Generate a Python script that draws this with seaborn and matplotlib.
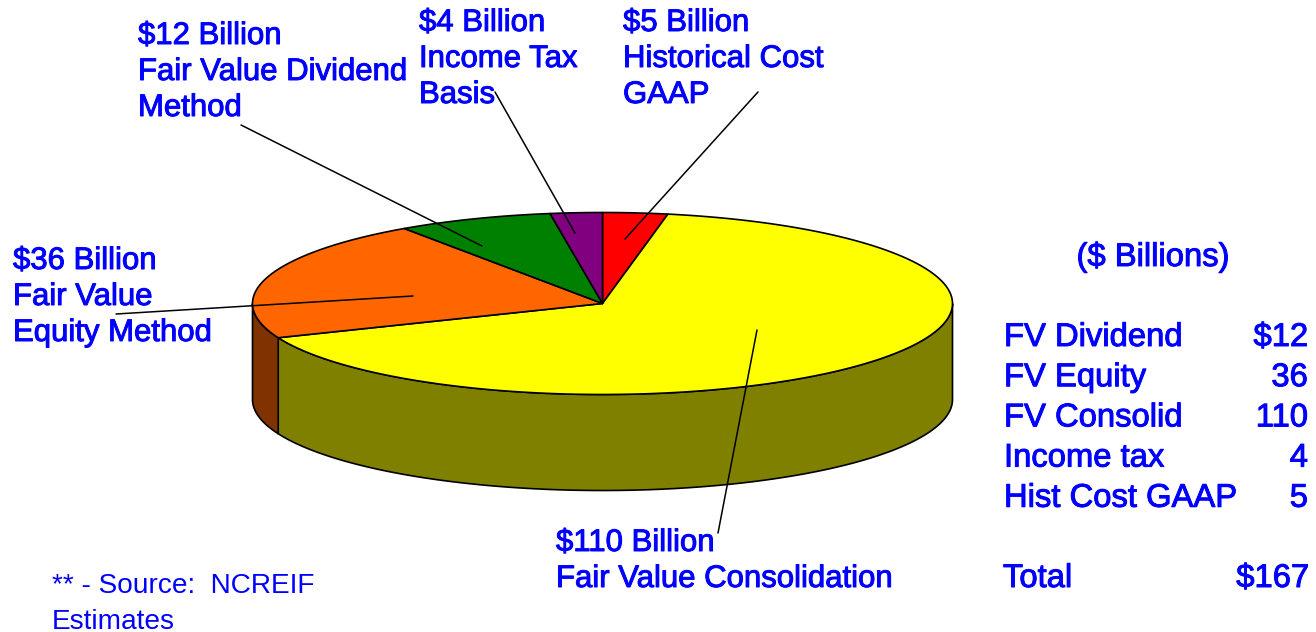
import numpy as np
import matplotlib
matplotlib.use("Agg")
import matplotlib.pyplot as plt
import matplotlib.patheffects as pe
import seaborn as sns

sns.set_theme(style="white")
plt.rcParams['font.family'] = ['Liberation Sans', 'DejaVu Sans']

# Data
slice_names = ["Hist Cost GAAP", "FV Consolid", "FV Equity", "FV Dividend", "Income tax"]
slice_values = [5, 110, 36, 12, 4]
slice_colors = ["#FF0000", "#FFFF00", "#FF6600", "#008000", "#800080"]
side_colors = ["#800000", "#808000", "#803300", "#004000", "#400040"]

table_names = ["FV Dividend", "FV Equity", "FV Consolid", "Income tax", "Hist Cost GAAP"]
table_values = ["$12", "36", "110", "4", "5"]
total_label = "Total"
total_value = "$167"
unit_label = "($ Billions)"

# lines, text x, first baseline y, leader start, leader end
callouts = [
    (["$12 Billion", "Fair Value Dividend", "Method"], 138, 44, (241, 125), (482, 246)),
    (["$4 Billion", "Income Tax", "Basis"], 419, 31, (495, 92), (575, 233)),
    (["$5 Billion", "Historical Cost", "GAAP"], 623, 31, (758, 92), (625, 239)),
    (["$36 Billion", "Fair Value", "Equity Method"], 13, 269, (116, 314), (413, 296)),
    (["$110 Billion", "Fair Value Consolidation"], 556, 551, (718, 533), (757, 330)),
]
source_lines = ["** - Source:  NCREIF", "Estimates"]

# Layout
CX, CY, RX, RY, DEPTH = 602.5, 303.5, 350, 91, 96
BLUE = "#0000FF"
FS = 22.4
FS_TABLE = 23.6
FS_SOURCE = 20.2
bold = [pe.withStroke(linewidth=0.7, foreground=BLUE)]

fig = plt.figure(figsize=(13.16, 6.32), dpi=100)
ax = fig.add_axes([0, 0, 1, 1])
ax.set_xlim(0, 1316)
ax.set_ylim(632, 0)
ax.axis("off")


def rim(a0, a1, n=200):
    t = np.radians(np.linspace(a0, a1, n))
    return CX + RX * np.sin(t), CY - RY * np.cos(t)


edges = np.concatenate([[0], np.cumsum(slice_values)]) * 360.0 / sum(slice_values)

# Side wall: only the front half (90-270 degrees clockwise from top) is visible
for i in range(len(slice_values)):
    a0, a1 = max(edges[i], 90), min(edges[i + 1], 270)
    if a1 <= a0:
        continue
    x, y = rim(a0, a1)
    ax.fill(np.r_[x, x[::-1]], np.r_[y, y[::-1] + DEPTH],
            facecolor=side_colors[i], edgecolor="black", linewidth=1.2, zorder=1)

# Top face
for i in range(len(slice_values)):
    x, y = rim(edges[i], edges[i + 1])
    ax.fill(np.r_[CX, x], np.r_[CY, y],
            facecolor=slice_colors[i], edgecolor="black", linewidth=1.2,
            joinstyle="round", zorder=2)

# Callouts
for lines, tx, ty, p0, p1 in callouts:
    for j, s in enumerate(lines):
        ax.text(tx, ty + 36 * j, s, color=BLUE, fontsize=FS, ha="left", va="baseline",
                path_effects=bold, zorder=4)
    ax.plot([p0[0], p1[0]], [p0[1], p1[1]], color="black", lw=1.1, zorder=3)

# Table
ax.text(1153, 266, unit_label, color=BLUE, fontsize=FS_TABLE, ha="center", va="baseline",
        path_effects=bold)
for j, (n, v) in enumerate(zip(table_names, table_values)):
    yy = 346 + 40.2 * j
    ax.text(1004, yy, n, color=BLUE, fontsize=FS_TABLE, ha="left", va="baseline", path_effects=bold)
    ax.text(1308, yy, v, color=BLUE, fontsize=FS_TABLE, ha="right", va="baseline", path_effects=bold)
ax.text(1003, 587, total_label, color=BLUE, fontsize=FS_TABLE, ha="left", va="baseline", path_effects=bold)
ax.text(1309, 587, total_value, color=BLUE, fontsize=FS_TABLE, ha="right", va="baseline", path_effects=bold)

# Source
for j, s in enumerate(source_lines):
    ax.text(52, 593 + 36 * j, s, color=BLUE, fontsize=FS_SOURCE, ha="left", va="baseline")

fig.savefig("out.png", dpi=100, facecolor="white")
